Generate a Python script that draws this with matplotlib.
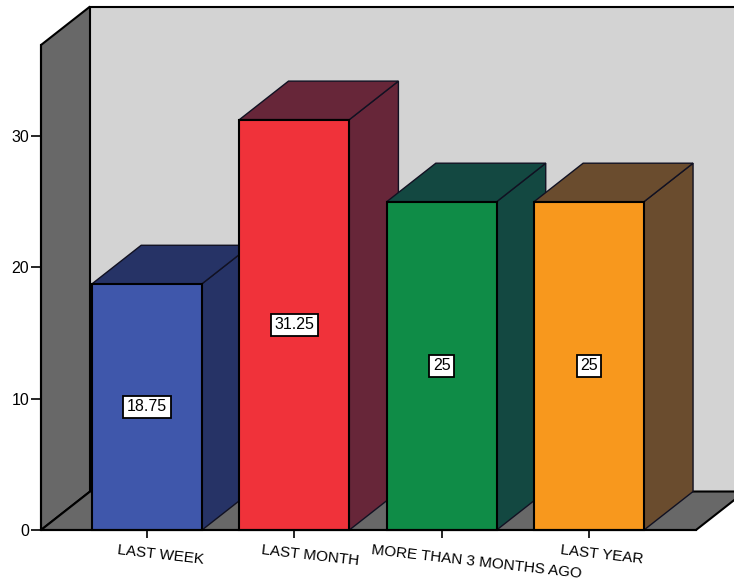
import numpy as np
import matplotlib.pyplot as plt
from matplotlib.patches import Polygon
from matplotlib.transforms import offset_copy

plt.rcParams['font.family'] = ['Liberation Sans', 'DejaVu Sans']

#### data
categories = ['LAST WEEK', 'LAST MONTH', 'MORE THAN 3 MONTHS AGO', 'LAST YEAR']
values = [18.75, 31.25, 25, 25]
y_ticks = [0, 10, 20, 30]

#### colours
front_colors = ['#3f57ab', '#f0323a', '#0f8c47', '#f8981d']
side_colors = ['#263366', '#672639', '#134841', '#6a4c2e']
wall_color = '#d3d3d3'
floor_color = '#686868'

#### layout (data units: 1 category slot wide, value units tall)
half_w = 0.373          # half width of a bar front
dx, dy = 0.333, 2.93    # 3d depth offset
xlo, xhi = -0.72, 3.726
ytop = 36.93

fig = plt.figure(figsize=(7.34, 5.80), dpi=100)
ax = fig.add_axes([41/734, 50/580, 655/734, 485/580])
ax.set_xlim(xlo, xhi)
ax.set_ylim(0, ytop)


def poly(pts, fc, ec='black', lw=1.0, z=1):
    ax.add_patch(Polygon(pts, closed=True, fc=fc, ec=ec, lw=lw,
                         clip_on=False, zorder=z, joinstyle='miter'))


# walls and floor
poly([(xlo, 0), (xlo+dx, dy), (xlo+dx, ytop+dy), (xlo, ytop)], floor_color, lw=1.5)
poly([(xlo+dx, dy), (xhi+dx, dy), (xhi+dx, ytop+dy), (xlo+dx, ytop+dy)], wall_color, lw=1.5)
poly([(xlo, 0), (xhi, 0), (xhi+dx, dy), (xlo+dx, dy)], floor_color, lw=1.5)

# bars
x = np.arange(len(categories))
for i, v in enumerate(values):
    c = x[i]
    z = 2 + i
    poly([(c+half_w, 0), (c+half_w+dx, dy), (c+half_w+dx, v+dy), (c+half_w, v)],
         side_colors[i], ec='#111122', lw=1.0, z=z)
    poly([(c-half_w, v), (c+half_w, v), (c+half_w+dx, v+dy), (c-half_w+dx, v+dy)],
         side_colors[i], ec='#111122', lw=1.0, z=z)
    poly([(c-half_w, 0), (c+half_w, 0), (c+half_w, v), (c-half_w, v)],
         front_colors[i], lw=1.5, z=z)
    ax.text(c, v/2, f'{v:g}', ha='center', va='center', fontsize=11.5, zorder=10,
            bbox=dict(boxstyle='square,pad=0.22', fc='white', ec='black', lw=1.3))

# axes
for s in ['top', 'right']:
    ax.spines[s].set_visible(False)
ax.spines['left'].set_linewidth(1.5)
ax.spines['bottom'].set_linewidth(1.5)
ax.spines['left'].set_zorder(20)
ax.spines['bottom'].set_zorder(20)
ax.set_yticks(y_ticks)
ax.tick_params(axis='y', length=7.5, width=1.2, labelsize=11.5, pad=1)
ax.set_xticks(x)
ax.set_xticklabels([''] * len(categories))
ax.tick_params(axis='x', length=6, width=1.2)

# slanted category labels
renderer = fig.canvas.get_renderer()
for i, lab in enumerate(categories):
    t = ax.text(x[i], 0, lab, fontsize=11, rotation=-6.5, rotation_mode='anchor',
                ha='left', va='top', clip_on=False)
    w, h, d = renderer.get_text_width_height_descent(lab, t.get_fontproperties(), ismath=False)
    t.set_transform(offset_copy(ax.transData, fig=fig, x=-0.33*w, y=-13, units='dots'))

fig.savefig('out.png', dpi=100)
